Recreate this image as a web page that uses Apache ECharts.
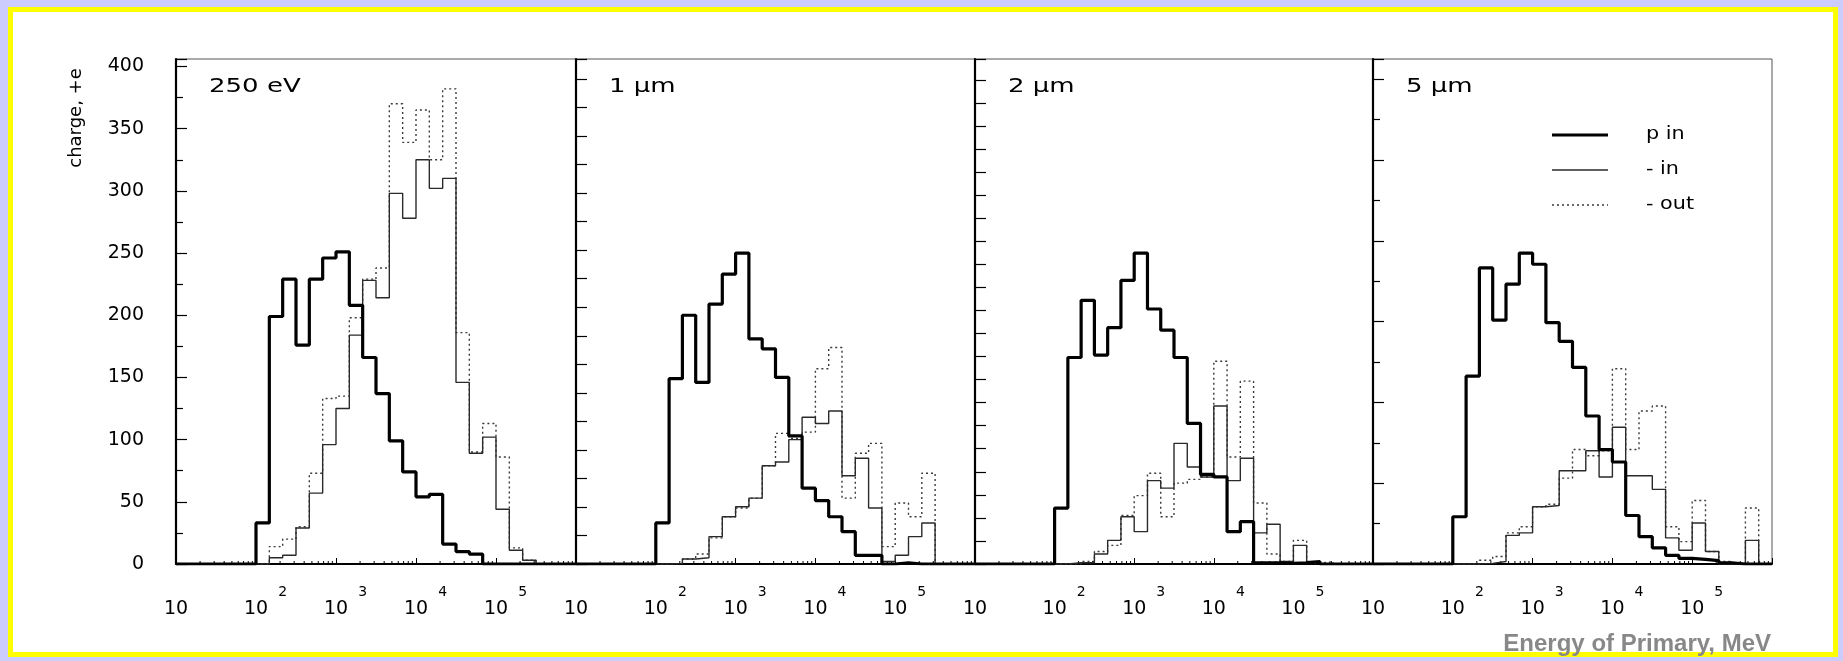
<!DOCTYPE html>
<html><head><meta charset="utf-8">
<script src="https://cdn.jsdelivr.net/npm/echarts@6.0.0/dist/echarts.min.js"></script>
<style>
html,body{margin:0;padding:0;background:#ccccff;}
#frame{position:absolute;left:8px;top:7px;width:1830px;height:650px;box-sizing:border-box;border:5px solid #ffff00;background:#fff;}
#c{position:absolute;left:0;top:0;width:1843px;height:661px;}
</style>
</head><body><div id="frame"></div><div id="c"></div>
<script>
// ---- data ----
const panelLabels = ['250 eV', '1 \u00b5m', '2 \u00b5m', '5 \u00b5m'];
const seriesNames = ['p in', '- in', '- out'];
const yTickLabels = [0, 50, 100, 150, 200, 250, 300, 350, 400];
const minorTickValues = [20,30,40,50,60,70,80,90, 200,300,400,500,600,700,800,900,
  2000,3000,4000,5000,6000,7000,8000,9000, 20000,30000,40000,50000,60000,70000,80000,90000,
  200000,300000,400000,500000,600000,700000,800000,900000];
// 30 bins, 6 per decade, from 10 MeV to 1e6 MeV
const pIn_250eV  = [0,0,0,0,0,0, 33,199,229,176,229,246, 251,208,166,137,99,74, 54,56,16,10,8,0, 0,0,0,0,0,0];
const mIn_250eV  = [0,0,0,0,0,0, 0,5,7,29,57,96, 125,184,228,214,298,278, 325,302,310,146,89,102, 44,11,3,0,0,0];
const mOut_250eV = [0,0,0,0,0,0, 0,14,20,30,73,133, 135,198,229,238,370,339, 365,325,382,186,90,113, 86,13,3,0,0,0];
const pIn_1um    = [0,0,0,0,0,0, 33,149,200,146,209,233, 250,181,173,150,103,61, 51,38,26,7,7,0, 1,0,0,0,0,0];
const mIn_1um    = [0,0,0,0,0,0, 0,0.5,4,5,22,38, 46,53,79,82,100,118, 113,123,71,85,45,2, 7,22,33,0,0,0];
const mOut_1um   = [0,0,0,0,0,0, 0,0.5,4,8,21,38, 45,53,79,105,101,106, 157,174,53,89,97,14, 49,38,73,0,0,0];
const pIn_2um    = [0,0,0,0,0,0, 45,166,212,168,190,228, 250,205,188,166,113,72, 70,26,34,1,1,0.5, 1,2,0,0,0,0];
const mIn_2um    = [0,0,0,0,0,0, 0,1,1,8,19,38, 26,67,61,97,78,70, 127,67,85,25,32,2, 15,2,0,0,0,0];
const mOut_2um   = [0,0,0,0,0,0, 0,0,2,10,15,39, 55,73,38,65,68,70, 163,86,147,49,8,2, 19,0.5,2,0,0,0];
const pIn_5um    = [0,0,0,0,0,0, 38,151,238,196,225,250, 241,194,179,158,119,92, 82,39,22,13,7,4.5, 3.7,2.7,1,0,0,0];
const mIn_5um    = [0,0,0,0,0,0, 0,0,0.5,2,23,25, 46,47,75,75,91,70, 110,71,71,60,21,11, 33,10,0,0,19,0];
const mOut_5um   = [0,0,0,0,0,0, 0,0,3,6,25,30, 46,48,69,92,87,91, 157,92,123,127,30,18, 51,10,2,0,45,0];

const panels = [
  [pIn_250eV, mIn_250eV, mOut_250eV],
  [pIn_1um, mIn_1um, mOut_1um],
  [pIn_2um, mIn_2um, mOut_2um],
  [pIn_5um, mIn_5um, mOut_5um]
];
// unlabeled tick scales of the right-hand panels: [max, interval, minor splits]
const panelTickScales = [null, [17.7, 1, 1], [21.9, 1, 1], [12.5, 2, 2]];
const binsPerDecade = 6;
const binEdges = [];
for (let k = 0; k <= 30; k++) binEdges.push(Math.pow(10, 1 + k / binsPerDecade));

// ---- layout ----
const panelEdges = [176, 576, 975, 1373, 1772];
const plotTop = 59, plotBottom = 564;
const FONT = '"DejaVu Sans", sans-serif';
const YMAX = 406;

const grids = [], xAxes = [], yAxes = [], series = [], graphics = [];
const lineStyles = [
  {color: '#000', width: 3.2, type: 'solid'},
  {color: '#2a2a2a', width: 1.4, type: 'solid'},
  {color: '#3a3a3a', width: 1.4, type: [2, 3]}
];
const seriesOrder = [2, 1, 0];
const tickStyle = {color: '#000', width: 1.2};

for (let i = 0; i < 4; i++) {
  grids.push({left: panelEdges[i], top: plotTop, width: panelEdges[i + 1] - panelEdges[i],
    height: plotBottom - plotTop, show: true, borderColor: '#555', borderWidth: 1, backgroundColor: 'transparent'});
  xAxes.push({
    type: 'log', logBase: 10, min: 10, max: 1e6, gridIndex: i,
    axisLine: {show: true, lineStyle: {color: '#000', width: 2}},
    axisTick: {show: true, inside: true, length: 6, lineStyle: {color: '#000', width: 1}},
    splitLine: {show: false}, minorTick: {show: false},
    axisLabel: {
      margin: 21, color: '#000', fontFamily: FONT,
      formatter: function (v) {
        const e = Math.round(Math.log10(v));
        if (e >= 6) return '';
        if (e === 1) return '{p|}{b|10}{q|}';
        return '{p|}{b|10}{s|' + e + '}';
      },
      rich: {
        p: {width: 19, lineHeight: 34, height: 34},
        q: {width: 19},
        b: {fontSize: 19, fontFamily: FONT, color: '#000', verticalAlign: 'bottom', lineHeight: 19},
        s: {fontSize: 14, fontFamily: FONT, color: '#000', verticalAlign: 'top', lineHeight: 14, padding: [0, 0, 0, 10]}
      }
    }
  });
  const ownTicks = i === 0;
  yAxes.push({
    type: 'value', min: 0, max: YMAX, interval: 50, gridIndex: i, position: 'left',
    axisLine: {show: true, lineStyle: {color: '#000', width: 2.2}},
    axisTick: {show: ownTicks, inside: true, length: 11, lineStyle: tickStyle},
    minorTick: {show: ownTicks, splitNumber: 2, length: 7, lineStyle: tickStyle},
    splitLine: {show: false},
    axisLabel: {
      show: ownTicks, margin: 32, color: '#000', fontFamily: FONT, fontSize: 19,
      showMaxLabel: false,
      formatter: v => (yTickLabels.indexOf(v) >= 0 ? String(v) : '')
    }
  });
  seriesOrder.forEach(s => {
    const vals = panels[i][s];
    const data = vals.map((v, k) => [binEdges[k], v]);
    data.push([binEdges[30], 0]);
    series.push({
      type: 'line', name: seriesNames[s], xAxisIndex: i, yAxisIndex: i,
      step: 'end', symbol: 'none', data: data, silent: true, animation: false,
      lineStyle: lineStyles[s], itemStyle: {color: lineStyles[s].color}, z: 3 + (2 - s)
    });
  });
  series.push({
    type: 'custom', xAxisIndex: i, yAxisIndex: i, silent: true, animation: false, z: 2,
    data: minorTickValues.map(v => [v, 0]),
    renderItem: function (params, api) {
      const p = api.coord([api.value(0), 0]);
      return {type: 'line', shape: {x1: p[0], y1: p[1], x2: p[0], y2: p[1] - 3},
        style: {stroke: '#000', lineWidth: 1}};
    }
  });
  graphics.push({
    type: 'text', x: panelEdges[i] + 33, y: 87, scaleX: 1.3, silent: true,
    style: {text: panelLabels[i], font: '20px ' + FONT, fill: '#000',
      align: 'left', verticalAlign: 'middle', textAlign: 'left', textVerticalAlign: 'middle'}
  });
}
// tick-only axes for the right-hand panels
for (let i = 1; i < 4; i++) {
  const t = panelTickScales[i];
  yAxes.push({
    type: 'value', min: 0, max: t[0], interval: t[1], gridIndex: i, position: 'left', offset: 0,
    axisLine: {show: false}, splitLine: {show: false}, axisLabel: {show: false},
    axisTick: {show: true, inside: true, length: 11, lineStyle: tickStyle},
    minorTick: {show: t[2] > 1, splitNumber: t[2], length: 7, lineStyle: tickStyle}
  });
}

// legend drawn as lines and labels inside the last panel
const legendRows = [135, 170, 205];
seriesOrder.slice().reverse().forEach((s, r) => {
  const ls = lineStyles[s];
  graphics.push({
    type: 'line', silent: true,
    shape: {x1: 1552, y1: legendRows[r], x2: 1608, y2: legendRows[r]},
    style: {stroke: ls.color, lineWidth: ls.width, lineDash: Array.isArray(ls.type) ? ls.type : null}
  });
  graphics.push({
    type: 'text', x: 1646, y: legendRows[r], scaleX: 1.22, silent: true,
    style: {text: seriesNames[s], font: '17px ' + FONT, fill: '#000',
      align: 'left', verticalAlign: 'middle', textAlign: 'left', textVerticalAlign: 'middle'}
  });
});

graphics.push({
  type: 'text', x: 76, y: 118, rotation: Math.PI / 2, silent: true,
  style: {text: 'charge, +e', font: '18px ' + FONT, fill: '#000',
    align: 'center', verticalAlign: 'middle', textAlign: 'center', textVerticalAlign: 'middle'}
});
graphics.push({
  type: 'text', x: 1771, y: 644, silent: true,
  style: {text: 'Energy of Primary, MeV', font: 'bold 24px "Liberation Sans", Arial, sans-serif', fill: '#888888',
    align: 'right', verticalAlign: 'middle', textAlign: 'right', textVerticalAlign: 'middle'}
});

const chart = echarts.init(document.getElementById('c'), null, {renderer: 'canvas'});
chart.setOption({
  animation: false,
  backgroundColor: 'transparent',
  grid: grids, xAxis: xAxes, yAxis: yAxes, series: series,
  graphic: {elements: graphics}
});
</script></body></html>
